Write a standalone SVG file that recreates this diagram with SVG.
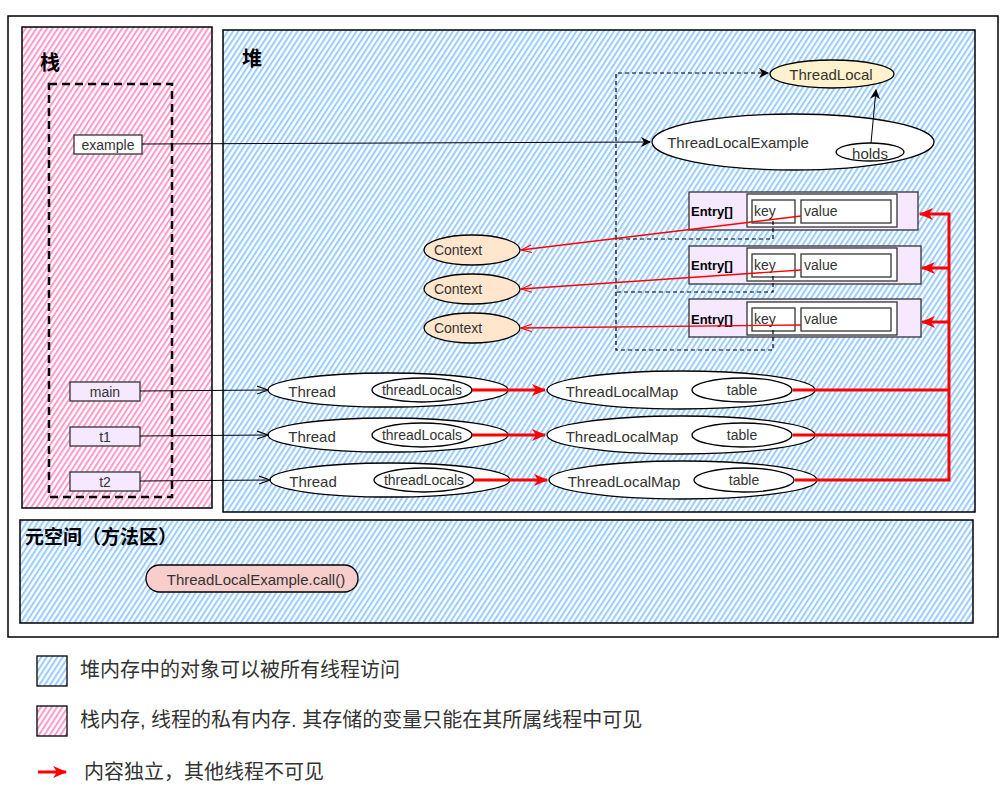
<svg xmlns="http://www.w3.org/2000/svg" width="1008" height="794" viewBox="0 0 1008 794">
<defs>
<pattern id="hb" width="4.5" height="4.5" patternUnits="userSpaceOnUse" patternTransform="rotate(33)"><rect width="4.5" height="4.5" fill="#fff"/><line x1="1" y1="0" x2="1" y2="4.5" stroke="#99ccff" stroke-width="2"/></pattern>
<pattern id="hp" width="4.5" height="4.5" patternUnits="userSpaceOnUse" patternTransform="rotate(33)"><rect width="4.5" height="4.5" fill="#fff"/><line x1="1" y1="0" x2="1" y2="4.5" stroke="#ff99cc" stroke-width="2"/></pattern>
<marker id="ab" markerWidth="10" markerHeight="10" refX="9" refY="5" orient="auto" markerUnits="userSpaceOnUse"><path d="M0,0 L10,5 L0,10 L3,5 Z" fill="#000"/></marker>
<marker id="ao" markerWidth="12" markerHeight="10" refX="11" refY="5" orient="auto" markerUnits="userSpaceOnUse"><path d="M0,1 L11,5 L0,9" fill="none" stroke="#000" stroke-width="1"/></marker>
<marker id="ar" markerWidth="14" markerHeight="12" refX="13" refY="6" orient="auto" markerUnits="userSpaceOnUse"><path d="M0,0 L14,6 L0,12 L4,6 Z" fill="#ff0000"/></marker>
<marker id="aro" markerWidth="12" markerHeight="10" refX="11" refY="5" orient="auto" markerUnits="userSpaceOnUse"><path d="M0,1 L11,5 L0,9" fill="none" stroke="#ff0000" stroke-width="1"/></marker>
</defs>
<style>
text{font-family:"Liberation Sans",Arial,"Noto Sans CJK SC",sans-serif;fill:#333;font-size:15px}
.c{text-anchor:middle;dominant-baseline:central}
.t{font-size:20px;font-weight:bold;fill:#000}
.lg{font-size:20px;fill:#333}
.el{fill:#fff;stroke:#000;stroke-width:1.3}
.box{fill:#f5e8ff;stroke:#333;stroke-width:1.3}
.wb{fill:#fff;stroke:#333;stroke-width:1.3}
.en{font-size:13px;font-weight:bold;fill:#000;dominant-baseline:central}
.kv{dominant-baseline:central;font-size:14px}
.ln{fill:none;stroke:#000;stroke-width:1}
.rl{fill:none;stroke:#ff0000;stroke-width:3}
.rt{fill:none;stroke:#ff0000;stroke-width:1.3}
.dl{fill:none;stroke:#000;stroke-width:1.2;stroke-dasharray:4 3}
</style>
<rect x="0" y="0" width="1008" height="794" fill="#fff"/>
<rect x="8" y="16" width="990" height="621" fill="#fff" stroke="#000" stroke-width="1.5"/>

<g id="stack">
<rect x="22" y="27" width="190" height="481" fill="url(#hp)" stroke="#000" stroke-width="1.5"/>
<text x="40" y="70" class="t">栈</text>
<rect x="49" y="84" width="123" height="413" fill="none" stroke="#000" stroke-width="2.5" stroke-dasharray="8 5"/>
</g>
<g id="heap">
<rect x="223" y="30" width="752" height="482" fill="url(#hb)" stroke="#000" stroke-width="1.5"/>
<text x="242" y="66" class="t">堆</text>
</g>
<g id="metaspace">
<rect x="20" y="520" width="953" height="103" fill="url(#hb)" stroke="#000" stroke-width="1.5"/>
<text x="25" y="544" class="t" style="font-size:19px">元空间（方法区）</text>
</g>

<g id="example"><rect x="74" y="135" width="68" height="19" class="wb"/><text x="108" y="145" class="c" style="font-size:14px">example</text></g>
<g id="main"><rect x="70" y="382" width="70" height="19" class="box"/><text x="105" y="392" class="c" style="font-size:14px">main</text></g>
<g id="t1"><rect x="70" y="427" width="70" height="19" class="box"/><text x="105" y="437" class="c" style="font-size:14px">t1</text></g>
<g id="t2"><rect x="70" y="472" width="70" height="19" class="box"/><text x="105" y="482" class="c" style="font-size:14px">t2</text></g>

<g id="threadlocal"><ellipse cx="832" cy="74" rx="62" ry="14" fill="#fff2cc" stroke="#000" stroke-width="1.3"/><text x="831" y="74" class="c">ThreadLocal</text></g>
<g id="tlexample"><ellipse cx="793" cy="142" rx="141" ry="28" class="el"/><text x="738" y="142" class="c">ThreadLocalExample</text>
<ellipse cx="870" cy="152" rx="34" ry="9" class="el"/><text x="870" y="153" class="c">holds</text></g>

<g id="entry1"><rect x="689" y="192" width="229" height="38" class="box"/><text x="691" y="211" class="en">Entry[]</text>
<rect x="747" y="194" width="150" height="33" class="wb"/><rect x="752" y="200" width="43" height="23" class="wb"/><rect x="801" y="200" width="90" height="23" class="wb"/>
<text x="754" y="211" class="kv">key</text><text x="804" y="211" class="kv">value</text></g>
<g id="entry2"><rect x="689" y="246" width="232" height="38" class="box"/><text x="691" y="265" class="en">Entry[]</text>
<rect x="747" y="248" width="150" height="33" class="wb"/><rect x="752" y="254" width="43" height="23" class="wb"/><rect x="801" y="254" width="90" height="23" class="wb"/>
<text x="754" y="265" class="kv">key</text><text x="804" y="265" class="kv">value</text></g>
<g id="entry3"><rect x="689" y="299" width="232" height="38" class="box"/><text x="691" y="319" class="en">Entry[]</text>
<rect x="747" y="302" width="150" height="33" class="wb"/><rect x="752" y="308" width="43" height="23" class="wb"/><rect x="801" y="308" width="90" height="23" class="wb"/>
<text x="754" y="319" class="kv">key</text><text x="804" y="319" class="kv">value</text></g>

<g id="context1"><ellipse cx="472" cy="250" rx="48" ry="15" fill="#ffe6cc" stroke="#000" stroke-width="1.3"/><text x="458" y="250" class="c" style="font-size:14px">Context</text></g>
<g id="context2"><ellipse cx="472" cy="289" rx="48" ry="15" fill="#ffe6cc" stroke="#000" stroke-width="1.3"/><text x="458" y="289" class="c" style="font-size:14px">Context</text></g>
<g id="context3"><ellipse cx="472" cy="328" rx="48" ry="15" fill="#ffe6cc" stroke="#000" stroke-width="1.3"/><text x="458" y="328" class="c" style="font-size:14px">Context</text></g>

<g id="thread1"><ellipse cx="388" cy="390" rx="120" ry="17" class="el"/><text x="312" y="391" class="c">Thread</text><ellipse cx="422" cy="390" rx="50" ry="12" class="el"/><text x="422" y="390" class="c" style="font-size:14px">threadLocals</text></g>
<g id="thread2"><ellipse cx="388" cy="435" rx="120" ry="17" class="el"/><text x="312" y="436" class="c">Thread</text><ellipse cx="422" cy="435" rx="50" ry="12" class="el"/><text x="422" y="435" class="c" style="font-size:14px">threadLocals</text></g>
<g id="thread3"><ellipse cx="390" cy="480" rx="120" ry="17" class="el"/><text x="313" y="481" class="c">Thread</text><ellipse cx="424" cy="480" rx="50" ry="12" class="el"/><text x="424" y="480" class="c" style="font-size:14px">threadLocals</text></g>

<g id="map1"><ellipse cx="681" cy="390" rx="134" ry="19" class="el"/><text x="622" y="391" class="c">ThreadLocalMap</text><ellipse cx="742" cy="390" rx="50" ry="12" class="el"/><text x="742" y="390" class="c" style="font-size:14px">table</text></g>
<g id="map2"><ellipse cx="681" cy="435" rx="134" ry="19" class="el"/><text x="622" y="436" class="c">ThreadLocalMap</text><ellipse cx="742" cy="435" rx="50" ry="12" class="el"/><text x="742" y="435" class="c" style="font-size:14px">table</text></g>
<g id="map3"><ellipse cx="683" cy="480" rx="134" ry="19" class="el"/><text x="624" y="481" class="c">ThreadLocalMap</text><ellipse cx="744" cy="480" rx="50" ry="12" class="el"/><text x="744" y="480" class="c" style="font-size:14px">table</text></g>

<g id="call"><rect x="146" y="565" width="212" height="27" rx="13.5" fill="#f8cecc" stroke="#000" stroke-width="1.3"/><text x="256" y="579" class="c">ThreadLocalExample.call()</text></g>

<g id="connectors">
<path class="ln" d="M142,144 L650,142" marker-end="url(#ab)"/>
<path class="ln" d="M871,143 L876,90" marker-end="url(#ab)"/>
<path class="dl" d="M773,221 L773,239 L616,239 L616,73 L768,73" marker-end="url(#ab)"/>
<path class="dl" d="M773,276 L773,292 L616,292"/>
<path class="dl" d="M773,330 L773,350 L616,350 L616,239"/>
<path class="ln" d="M140,391 L268,390" marker-end="url(#ao)"/>
<path class="ln" d="M140,436 L268,435" marker-end="url(#ao)"/>
<path class="ln" d="M140,481 L270,480" marker-end="url(#ao)"/>
<path class="rl" d="M472,390 L545,390" marker-end="url(#ar)"/>
<path class="rl" d="M472,435 L545,435" marker-end="url(#ar)"/>
<path class="rl" d="M474,480 L547,480" marker-end="url(#ar)"/>
<path class="rl" d="M793,390 L949,390"/>
<path class="rl" d="M793,435 L949,435"/>
<path class="rl" d="M795,480 L949,480 L949,214 L920,214" marker-end="url(#ar)"/>
<path class="rl" d="M949,268 L922,268" marker-end="url(#ar)"/>
<path class="rl" d="M949,322 L922,322" marker-end="url(#ar)"/>
<path class="rt" d="M801,216 L521,250" marker-end="url(#aro)"/>
<path class="rt" d="M801,270 L521,289" marker-end="url(#aro)"/>
<path class="rt" d="M801,325 L521,328" marker-end="url(#aro)"/>
</g>

<g id="legend">
<rect x="37" y="656" width="30" height="30" fill="url(#hb)" stroke="#000" stroke-width="1.3"/>
<text x="80" y="677" class="lg">堆内存中的对象可以被所有线程访问</text>
<rect x="37" y="706" width="30" height="30" fill="url(#hp)" stroke="#000" stroke-width="1.3"/>
<text x="80" y="727" class="lg">栈内存, 线程的私有内存. 其存储的变量只能在其所属线程中可见</text>
<path class="rl" d="M38,772 L66,772" marker-end="url(#ar)"/>
<text x="84" y="779" class="lg">内容独立，其他线程不可见</text>
</g>
</svg>
